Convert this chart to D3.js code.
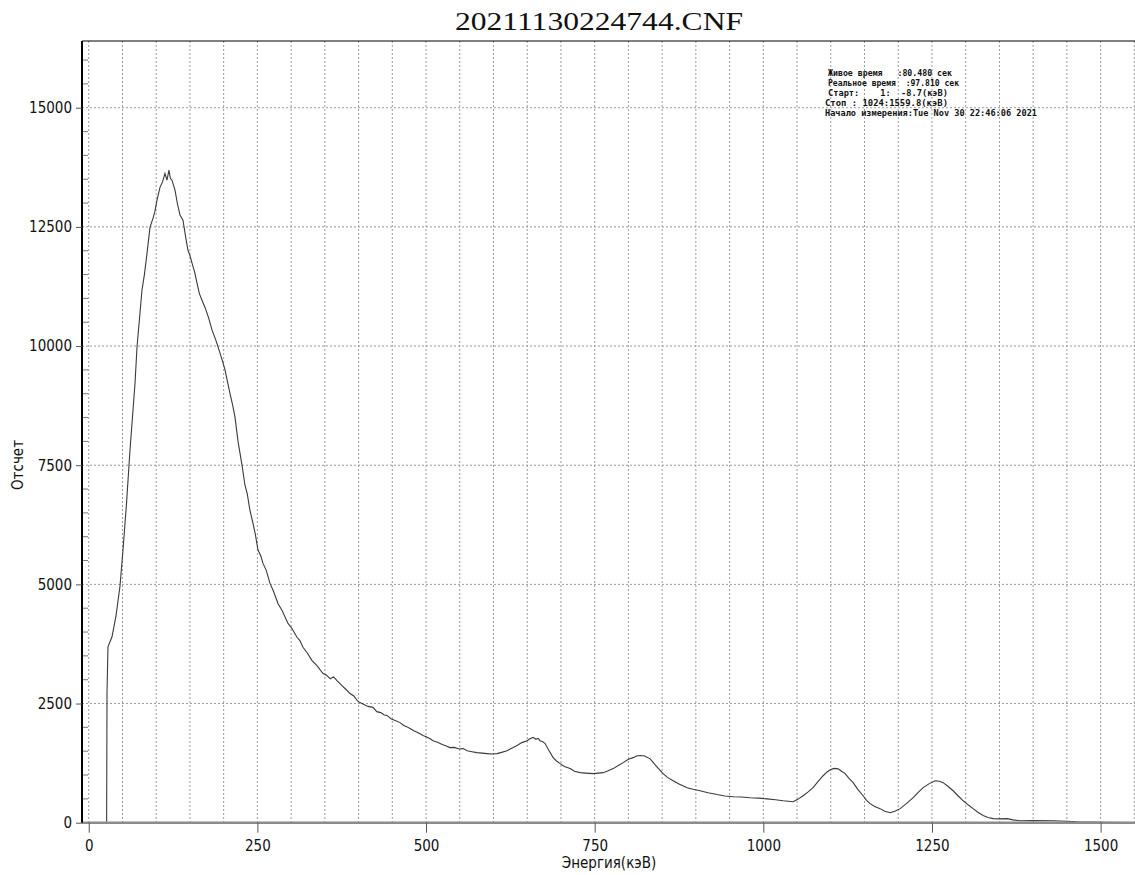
<!DOCTYPE html>
<html>
<head>
<meta charset="utf-8">
<script src="https://cdn.jsdelivr.net/npm/d3@7"></script>
<style>
  body { margin: 0; background: #fff; }
  svg { display: block; }
</style>
</head>
<body>
<div id="chart"></div>
<script>
// spectrum (energy keV, counts)
const energy = [
  -8.7, 26.5, 27.1, 28.5, 34.5, 40.5, 46.3, 50.8, 56.0, 61.1, 68.6, 71.5, 78.9, 82.5, 86.4,
  90.8, 95.2, 98.0, 101.2, 105.6, 109.5, 113.0, 116.0, 118.9, 121.0, 123.4, 127.9, 131.5,
  135.3, 139.7, 143.5, 147.1, 150.0, 153.1, 157.0, 160.5, 164.0, 167.9, 172.4, 177.5, 182.7,
  188.5, 194.6, 198.0, 202.0, 209.4, 213.5, 216.8, 221.3, 227.2, 231.6, 235.0, 239.0, 243.5,
  247.0, 250.9, 255.0, 258.3, 263.0, 268.7, 274.0, 280.5, 287.0, 295.4, 301.0, 308.7, 313.0,
  317.6, 324.0, 331.0, 338.0, 347.3, 352.0, 358.0, 363.0, 368.0, 375.0, 381.0, 387.3, 393.0,
  398.0, 402.1, 408.0, 414.0, 421.4, 427.0, 433.0, 438.0, 442.2, 448.0, 455.0, 461.4, 467.0,
  472.0, 476.3, 482.0, 489.0, 495.5, 501.0, 506.0, 510.4, 517.0, 524.0, 530.0, 535.6, 542.0,
  549.0, 554.9, 561.0, 568.0, 575.6, 583.0, 590.5, 598.0, 605.3, 612.0, 620.1, 627.0, 635.0,
  642.0, 649.8, 654.0, 658.7, 663.0, 666.0, 669.1, 673.0, 676.5, 682.0, 688.4, 693.0, 698.8,
  705.0, 713.6, 720.0, 728.4, 737.0, 747.7, 755.0, 762.5, 770.0, 777.4, 785.0, 792.2, 800.0,
  807.0, 812.0, 817.4, 824.0, 832.3, 840.0, 845.0, 851.5, 858.0, 866.3, 875.0, 887.1, 896.0,
  906.3, 918.0, 931.5, 943.0, 955.2, 968.0, 980.4, 993.0, 1005.6, 1018.0, 1029.4, 1037.0,
  1044.2, 1051.0, 1059.0, 1066.0, 1073.8, 1081.0, 1088.7, 1094.0, 1099.1, 1105.0, 1110.9,
  1116.0, 1121.3, 1127.0, 1133.2, 1140.0, 1148.0, 1153.0, 1158.4, 1165.0, 1173.2, 1180.0,
  1188.0, 1195.0, 1202.9, 1212.0, 1222.2, 1230.0, 1237.0, 1246.0, 1254.8, 1261.0, 1266.6,
  1274.0, 1281.4, 1289.0, 1296.3, 1304.0, 1311.1, 1318.0, 1325.9, 1333.0, 1340.8, 1350.0,
  1361.5, 1370.0, 1380.8, 1400.0, 1429.7, 1450.0, 1465.3, 1490.0, 1503.8, 1551.0
];
const counts = [
  0, 0, 2740, 3690, 3900, 4350, 4960, 5720, 6700, 7810, 9220, 9970, 11170, 11500, 11950,
  12490, 12680, 12820, 13060, 13330, 13450, 13620, 13480, 13690, 13520, 13480, 13270, 12980,
  12750, 12640, 12300, 12010, 11900, 11740, 11550, 11320, 11100, 10960, 10810, 10600, 10340,
  10120, 9850, 9700, 9500, 9000, 8750, 8510, 8000, 7500, 7080, 6900, 6550, 6280,
  6050, 5720, 5600, 5440, 5300, 5020, 4850, 4600, 4440, 4180, 4080, 3890, 3820,
  3680, 3560, 3400, 3300, 3130, 3100, 3020, 3060, 2980, 2880, 2800, 2710, 2660,
  2560, 2520, 2480, 2440, 2420, 2330, 2310, 2260, 2250, 2180, 2140, 2100, 2040,
  2010, 1975, 1930, 1880, 1830, 1800, 1760, 1720, 1690, 1640, 1610, 1575, 1580,
  1545, 1555, 1510, 1490, 1470, 1460, 1450, 1440, 1450, 1475, 1510, 1560, 1620,
  1680, 1720, 1760, 1790, 1750, 1770, 1720, 1700, 1660, 1520, 1365, 1300, 1240,
  1180, 1135, 1080, 1050, 1040, 1030, 1040, 1050, 1090, 1135, 1200, 1260, 1330,
  1365, 1400, 1410, 1400, 1340, 1210, 1130, 1030, 950, 880, 810, 735, 700,
  670, 630, 590, 560, 545, 540, 525, 515, 500, 480, 460, 450,
  440, 490, 565, 640, 735, 860, 985, 1060, 1110, 1140, 1130,
  1080, 1030, 930, 840, 700, 565, 470, 400, 340, 295, 240,
  210, 240, 295, 400, 525, 640, 735, 820, 880, 870, 840,
  760, 670, 560, 460, 370, 295, 220, 150, 110, 85, 80,
  85, 60, 40, 45, 40, 30, 20, 15, 10, 5
];

const xTicks = [0, 250, 500, 750, 1000, 1250, 1500];
const yTicks = [0, 2500, 5000, 7500, 10000, 12500, 15000];

const title = "20211130224744.CNF";
const xTitle = "Энергия(кэВ)";
const yTitle = "Отсчет";
const infoLines = [
  "Живое время   :80.480 сек",
  "Реальное время  :97.810 сек",
  "Старт:    1:  -8.7(кэВ)",
  "Стоп : 1024:1559.8(кэВ)",
  "Начало измерения:Tue Nov 30 22:46:06 2021"
];

const W = 1135, H = 875;
const plotL = 82, plotR = 1135, plotT = 41, plotB = 822.7;

const svg = d3.select("#chart").append("svg").attr("width", W).attr("height", H);

const x = d3.scaleLinear().domain([-10, 1551]).range([plotL, plotR]);
const y = d3.scaleLinear().domain([0, 16400]).range([plotB, plotT]);

const gridColor = "#9a9a9a";

// vertical grid every 50 keV
svg.append("g").selectAll("line")
  .data(d3.range(0, 1551, 50))
  .enter().append("line")
  .attr("x1", d => x(d)).attr("x2", d => x(d))
  .attr("y1", plotT).attr("y2", plotB)
  .attr("stroke", gridColor).attr("stroke-width", 1)
  .attr("stroke-dasharray", "2,2");

// horizontal grid on majors
svg.append("g").selectAll("line")
  .data(yTicks.filter(d => d > 0))
  .enter().append("line")
  .attr("x1", plotL).attr("x2", plotR)
  .attr("y1", d => y(d)).attr("y2", d => y(d))
  .attr("stroke", gridColor).attr("stroke-width", 1)
  .attr("stroke-dasharray", "2,2");

// minor y ticks inside
svg.append("g").selectAll("line")
  .data(d3.range(500, 16400, 500).filter(d => d % 2500 !== 0))
  .enter().append("line")
  .attr("x1", plotL).attr("x2", plotL + 6)
  .attr("y1", d => y(d)).attr("y2", d => y(d))
  .attr("stroke", "#777").attr("stroke-width", 1);

// spectrum
const pts = energy.map((e, i) => [e, counts[i]]);
svg.append("path")
  .datum(pts)
  .attr("fill", "none")
  .attr("stroke", "#3a3a3a")
  .attr("stroke-width", 1.1)
  .attr("d", d3.line().x(d => x(d[0])).y(d => y(d[1])));

// x axis (thick grey baseline)
svg.append("line")
  .attr("x1", plotL).attr("x2", plotR)
  .attr("y1", plotB).attr("y2", plotB)
  .attr("stroke", "#8c8c8c").attr("stroke-width", 2.5);

// frame: left and top
svg.append("line")
  .attr("x1", plotL).attr("x2", plotL).attr("y1", plotT).attr("y2", plotB)
  .attr("stroke", "#000").attr("stroke-width", 2);
svg.append("line")
  .attr("x1", plotL).attr("x2", plotR).attr("y1", plotT).attr("y2", plotT)
  .attr("stroke", "#000").attr("stroke-width", 1);

const tickFont = "'DejaVu Sans Condensed', 'DejaVu Sans', sans-serif";
const fmt = d3.format("d");

const xAxis = d3.axisBottom(x).tickValues(xTicks).tickFormat(fmt).tickSize(10).tickPadding(8);
const gx = svg.append("g").attr("transform", `translate(0,${plotB})`).call(xAxis);
gx.select(".domain").remove();
gx.selectAll("line").attr("stroke", "#555");
gx.selectAll("text").attr("font-family", tickFont).attr("font-size", 15).attr("fill", "#111");

const yAxis = d3.axisLeft(y).tickValues(yTicks).tickFormat(fmt).tickSize(6).tickPadding(4);
const gy = svg.append("g").attr("transform", `translate(${plotL},0)`).call(yAxis);
gy.select(".domain").remove();
gy.selectAll("line").attr("stroke", "#555");
gy.selectAll("text").attr("font-family", tickFont).attr("font-size", 15).attr("fill", "#111");

// titles
svg.append("text")
  .attr("x", 599).attr("y", 30)
  .attr("text-anchor", "middle")
  .attr("font-family", "'Liberation Serif', 'Times New Roman', serif")
  .attr("font-size", 25)
  .attr("textLength", 288).attr("lengthAdjust", "spacingAndGlyphs")
  .attr("fill", "#111")
  .text(title);

svg.append("text")
  .attr("x", 609).attr("y", 868)
  .attr("text-anchor", "middle")
  .attr("font-family", tickFont).attr("font-size", 15).attr("fill", "#111")
  .text(xTitle);

svg.append("text")
  .attr("transform", "translate(23,465) rotate(-90)")
  .attr("text-anchor", "middle")
  .attr("font-family", tickFont).attr("font-size", 15).attr("fill", "#111")
  .text(yTitle);

// info block
const infoX = [828, 828, 828, 825, 825];
const infoW = [124, 131, 120, 123, 212];
svg.append("g").selectAll("text")
  .data(infoLines)
  .enter().append("text")
  .attr("x", (d, i) => infoX[i])
  .attr("y", (d, i) => 76 + i * 10)
  .attr("font-family", "'DejaVu Sans Mono', monospace")
  .attr("font-size", 8.5)
  .attr("font-weight", "bold")
  .attr("fill", "#111")
  .attr("textLength", (d, i) => infoW[i])
  .attr("lengthAdjust", "spacingAndGlyphs")
  .style("white-space", "pre")
  .text(d => d);
</script>
</body>
</html>
